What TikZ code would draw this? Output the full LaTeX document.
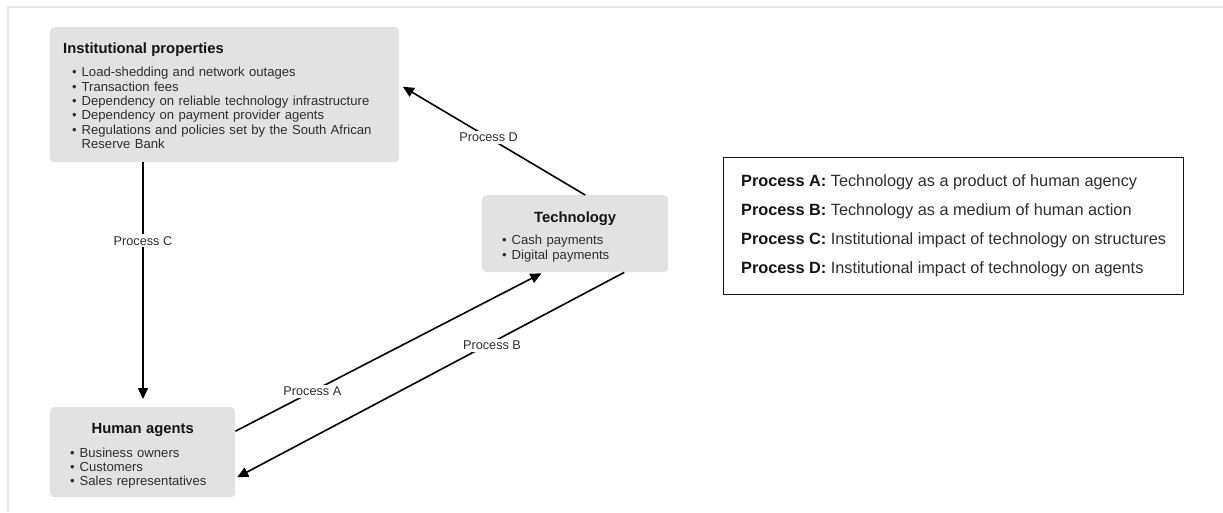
\documentclass[tikz,border=0pt]{standalone}
\usepackage{fontspec}
\setmainfont{Liberation Sans}
\usepackage{xcolor}
\usepackage{tikz}
\usetikzlibrary{arrows.meta,positioning}
\definecolor{BoxGray}{HTML}{E2E2E2}
\definecolor{FrameGray}{HTML}{E8E8E8}
\definecolor{InkDark}{HTML}{141414}
\definecolor{InkBody}{HTML}{2E2E2E}
\newcommand{\itm}[1]{\makebox[9.5pt][l]{\textbullet}#1}

\begin{document}
\begin{tikzpicture}[x=1pt,y=-1pt,
  box/.style={fill=BoxGray,rounded corners=4pt,inner xsep=13pt,inner ysep=0pt,align=left,
    text=InkBody,font=\fontsize{13.1}{14.4}\selectfont},
  arr/.style={-{Triangle[length=11pt,width=10pt]},line width=1.6pt,black},
  lbl/.style={fill=white,inner sep=2pt,text=InkBody,font=\fontsize{12.7}{14}\selectfont}]
\useasboundingbox (0,0) rectangle (1223,512);
\draw[FrameGray,line width=1.5pt] (8,512) -- (8,7) -- (1223,7);
% the three blocks
\node[box,anchor=north west,minimum width=349pt,minimum height=135pt,text width=323pt] (inst) at (50,27)
  {\rule{0pt}{13pt}{\fontsize{14.8}{18}\selectfont\bfseries\color{InkDark}Institutional properties}\\[8.6pt]
   \hspace*{9pt}\itm{Load-shedding and network outages}\\
   \hspace*{9pt}\itm{Transaction fees}\\
   \hspace*{9pt}\itm{Dependency on reliable technology infrastructure}\\
   \hspace*{9pt}\itm{Dependency on payment provider agents}\\
   \hspace*{9pt}\itm{Regulations and policies set by the South African}\\
   \hspace*{18.5pt}Reserve Bank};
\node[box,anchor=north west,minimum width=186pt,minimum height=77pt,text width=160pt] (tech) at (482,195)
  {\rule{0pt}{17pt}\makebox[\linewidth]{\fontsize{14.8}{18}\selectfont\bfseries\color{InkDark}Technology}\\[7.9pt]
   \hspace*{7pt}\itm{Cash payments}\\
   \hspace*{7pt}\itm{Digital payments}};
\node[box,anchor=north west,minimum width=185pt,minimum height=90pt,text width=159pt] (hum) at (50,407)
  {\rule{0pt}{18pt}\makebox[\linewidth]{\fontsize{14.8}{18}\selectfont\bfseries\color{InkDark}Human agents}\\[8.9pt]
   \hspace*{7pt}\itm{Business owners}\\
   \hspace*{7pt}\itm{Customers}\\
   \hspace*{7pt}\itm{Sales representatives}};
% legend
\node[draw=InkDark,line width=1.2pt,anchor=north west,minimum width=460pt,minimum height=137pt,
  inner xsep=17pt,align=left,text=InkBody,font=\fontsize{16.3}{29}\selectfont] (legend) at (723,157)
  {{\bfseries\color{InkDark}Process A:} Technology as a product of human agency\\
   {\bfseries\color{InkDark}Process B:} Technology as a medium of human action\\
   {\bfseries\color{InkDark}Process C:} Institutional impact of technology on structures\\
   {\bfseries\color{InkDark}Process D:} Institutional impact of technology on agents};
% processes
\draw[arr,shorten >=8pt] ([xshift=93pt]inst.south west) -- node[lbl,pos=0.32] (pc) {Process C} ([xshift=93pt]hum.north west);
\draw[arr,shorten >=4pt] ([xshift=10pt]tech.north) -- node[lbl,pos=0.52] (pd) {Process D} ([yshift=10pt]inst.east);
\draw[arr,shorten >=2pt] ([yshift=21pt]hum.east) -- node[lbl,pos=0.25] (pa) {Process A} ([xshift=-32pt]tech.south);
\draw[arr,shorten >=2pt] ([xshift=49pt]tech.south) -- node[lbl,pos=0.34,yshift=-3pt] (pb) {Process B} ([yshift=-26pt]hum.east);
\end{tikzpicture}
\end{document}
